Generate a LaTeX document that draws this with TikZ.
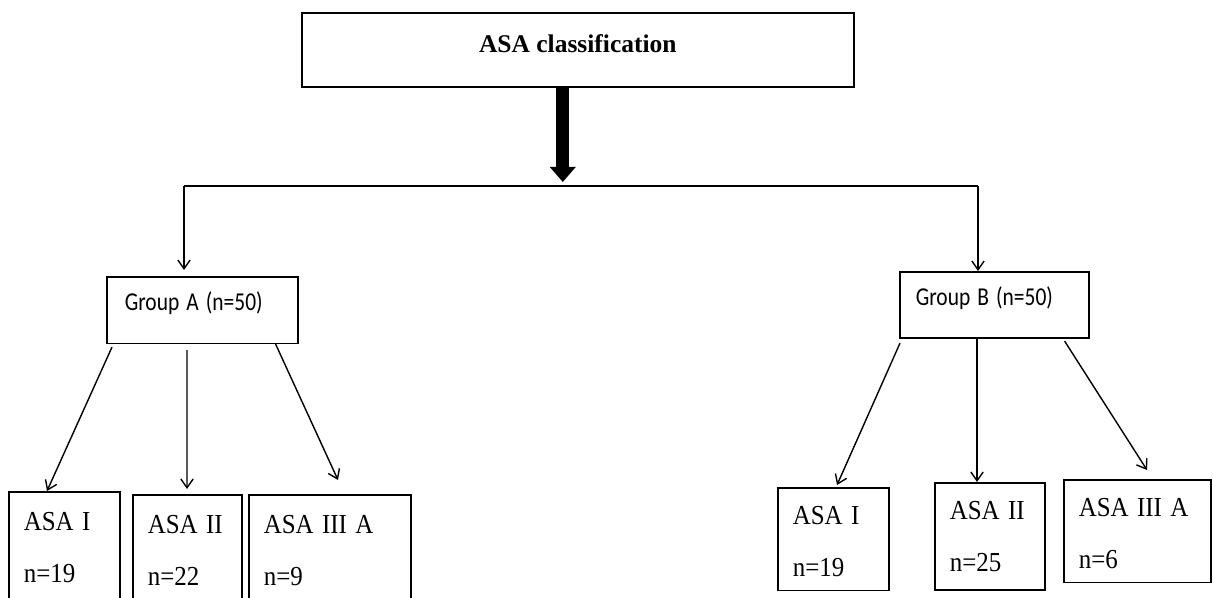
\documentclass[tikz,border=0pt]{standalone}
\usepackage{fontspec}
\setmainfont{Liberation Serif}
\newfontfamily\grpfont{Carlito}
\usepackage{graphicx}
\usepackage{tikz}
\usetikzlibrary{positioning}
\usetikzlibrary{arrows, arrows.meta}

\newcommand{\tallgrp}[1]{\scalebox{1}[1.2]{#1}}
\newcommand{\tallasa}[1]{\scalebox{1}[1.1]{#1}}

\tikzset{
  topbox/.style={draw, line width=0.9pt, inner xsep=0pt, inner ysep=0pt,
    minimum width=11.04cm, text height=0.8cm, text depth=0.68cm,
    font=\fontsize{14.5}{17}\selectfont\bfseries},
  grpbox/.style={draw, line width=0.9pt, inner ysep=0pt, align=left,
    text height=0.67cm, text depth=0.66cm, text width=#1,
    font=\grpfont\fontsize{12.2}{14}\selectfont},
  asabox/.style={draw, line width=0.9pt, align=left, inner xsep=0.3cm,
    inner ysep=0pt, text height=0.77cm, text depth=1.31cm, text width=#1,
    font=\fontsize{14.2}{29.5}\selectfont},
  thinarrow/.style={line width=0.8pt, -{Straight Barb[length=5pt,width=7pt]}},
  bigarrow/.style={line width=0.26cm, -{Triangle[width=0.5cm,length=0.3cm]}}
}

\begin{document}
\begin{tikzpicture}
  \useasboundingbox (0,0) rectangle (24.26,-11.96);

  \node[topbox, anchor=north west] (asacls) at (6.02,-0.24) {ASA classification};

  \node[grpbox=3.1cm, inner xsep=0.36cm, anchor=north west] (grpA) at (2.12,-5.52) {\tallgrp{Group A (n=50)}};
  \node[grpbox=3.14cm, inner xsep=0.32cm, anchor=north west] (grpB) at (17.98,-5.42) {\tallgrp{Group B (n=50)}};

  \node[asabox=1.62cm, text depth=1.5cm, anchor=north west] (aAone) at (0.16,-9.82) {\tallasa{ASA~I}\\\tallasa{n=19}};
  \node[asabox=1.58cm, text depth=1.5cm, anchor=north west] (aAtwo) at (2.64,-9.88) {\tallasa{ASA~II}\\\tallasa{n=22}};
  \node[asabox=2.64cm, text depth=1.5cm, anchor=north west] (aAthree) at (4.96,-9.88) {\tallasa{ASA~III~A}\\\tallasa{n=9}};

  \node[asabox=1.62cm, text height=0.74cm, anchor=north west] (aBone) at (15.54,-9.74) {\tallasa{ASA~I}\\\tallasa{n=19}};
  \node[asabox=1.6cm, text height=0.74cm, text depth=1.4cm, anchor=north west] (aBtwo) at (18.68,-9.64) {\tallasa{ASA~II}\\\tallasa{n=25}};
  \node[asabox=2.34cm, text height=0.74cm, anchor=north west] (aBthree) at (21.26,-9.58) {\tallasa{ASA~III~A}\\\tallasa{n=6}};

  % split bar
  \coordinate (barL) at (3.68,-3.72);
  \coordinate (barR) at (19.56,-3.72);
  \draw[bigarrow] ([xshift=-0.3cm]asacls.south) -- ([xshift=-0.3cm,yshift=0.08cm]asacls.south |- barL);
  \draw[line width=0.8pt] (barL) -- (barR);
  \draw[thinarrow] (barL) -- ([yshift=0.12cm]barL |- grpA.north);
  \draw[thinarrow] (barR) -- (barR |- grpB.north);

  \draw[thinarrow] ([xshift=0.12cm,yshift=-0.06cm]grpA.south west) -- ([xshift=0.78cm]aAone.north west);
  \draw[thinarrow] ([xshift=1.62cm,yshift=-0.12cm]grpA.south west) -- ([xshift=1.1cm,yshift=0.1cm]aAtwo.north west);
  \draw[thinarrow] ([xshift=-0.46cm]grpA.south east) -- ([xshift=1.8cm,yshift=0.28cm]aAthree.north west);

  \draw[thinarrow] ([xshift=0.02cm,yshift=-0.08cm]grpB.south west) -- ([xshift=1.2cm,yshift=0.04cm]aBone.north west);
  \draw[thinarrow] ([xshift=1.56cm]grpB.south west) -- ([xshift=0.86cm]aBtwo.north west);
  \draw[thinarrow] ([xshift=-0.5cm,yshift=-0.04cm]grpB.south east) -- ([xshift=1.68cm,yshift=0.18cm]aBthree.north west);
\end{tikzpicture}
\end{document}
